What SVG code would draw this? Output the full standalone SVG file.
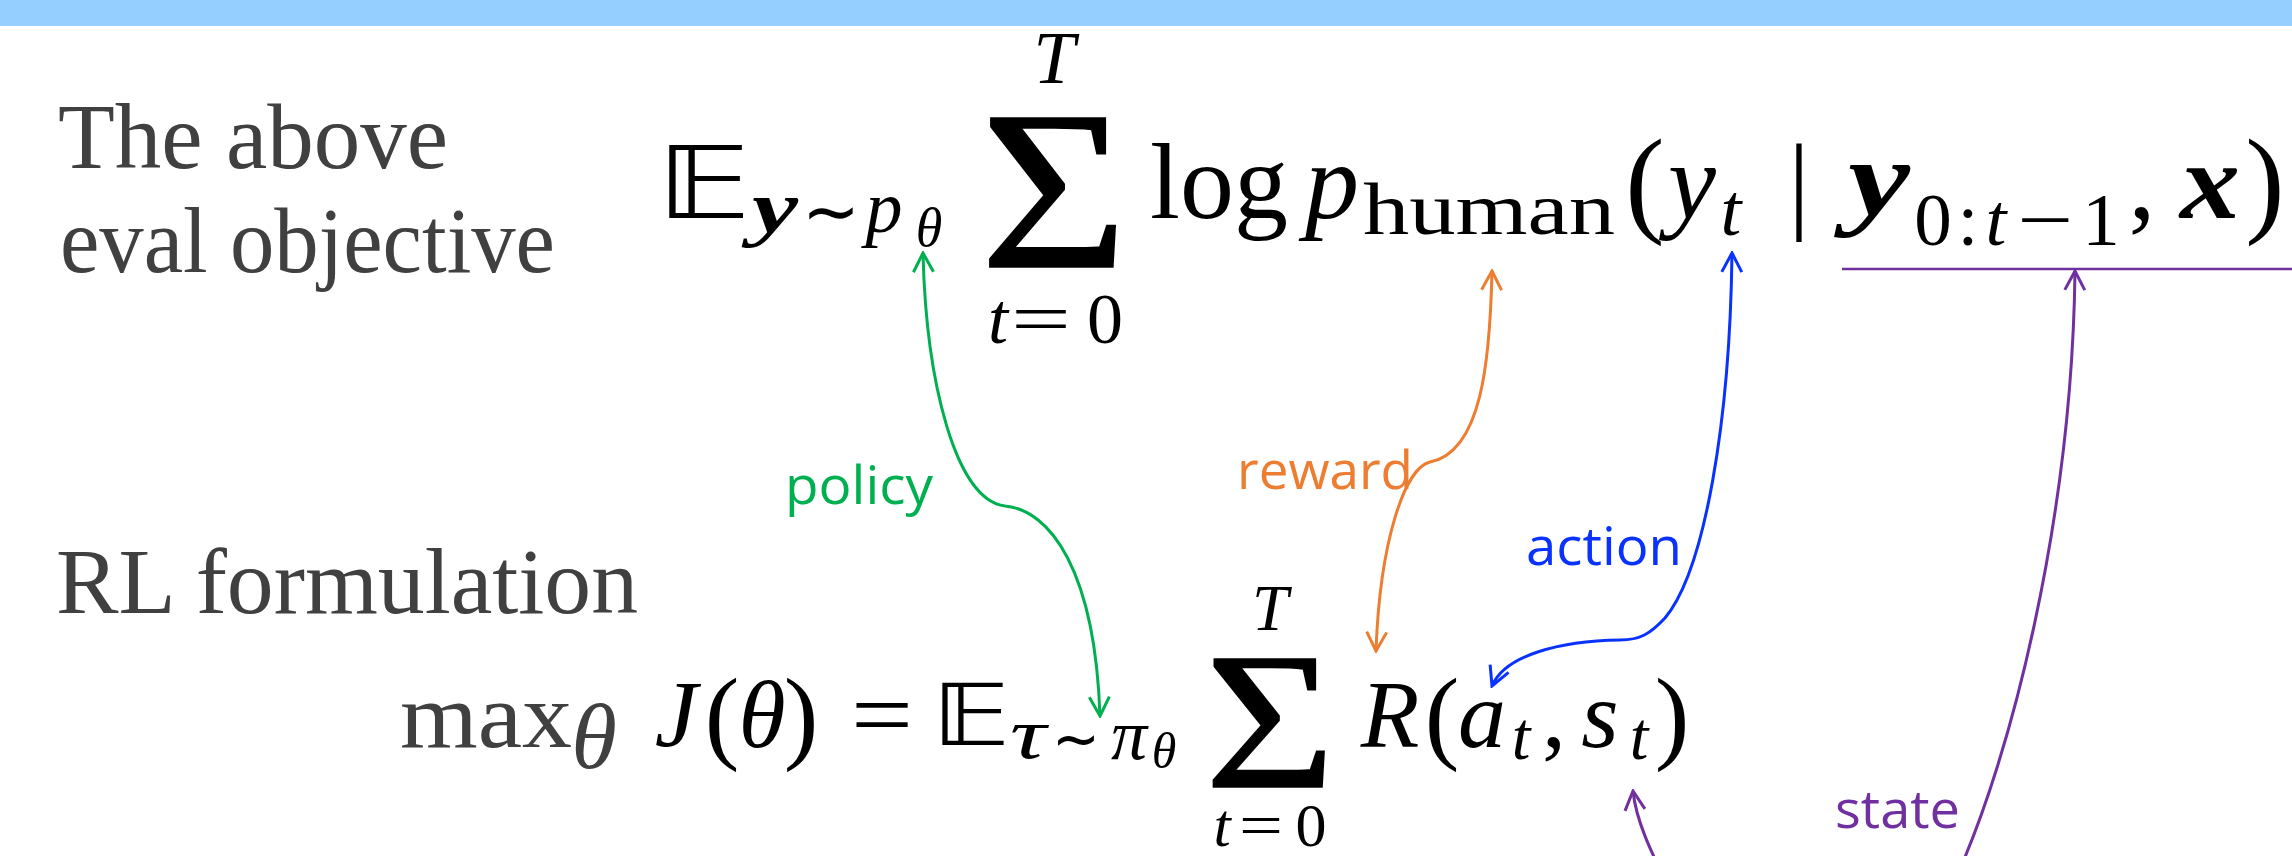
<svg xmlns="http://www.w3.org/2000/svg" width="2292" height="856" viewBox="0 0 2292 856">
<style>
.lbl{font-family:"Liberation Serif","Times New Roman",serif;fill:#404040;font-size:93px}
.m{font-family:"Liberation Serif","Times New Roman",serif;fill:#000}
.i{font-style:italic}
.b{font-weight:bold}
.bb{font-family:"DejaVu Sans","DejaVu Serif",serif;fill:#000}
.sim{font-family:"DejaVu Sans","DejaVu Serif",sans-serif;fill:#000}
.c{text-anchor:middle}
.sig{stroke:#000;stroke-width:1.5}
.tag{font-family:"Open Sans","Noto Sans",sans-serif;font-size:53px}
.con{fill:none;stroke-width:3}
</style>
<defs>
<marker id="aG" viewBox="-22 -12 24 24" refX="0" refY="0" markerWidth="24" markerHeight="24" markerUnits="userSpaceOnUse" orient="auto-start-reverse"><path d="M-19,-10 L0,0 L-19,10" fill="none" stroke="#00B050" stroke-width="3"/></marker>
<marker id="aO" viewBox="-22 -12 24 24" refX="0" refY="0" markerWidth="24" markerHeight="24" markerUnits="userSpaceOnUse" orient="auto-start-reverse"><path d="M-19,-10 L0,0 L-19,10" fill="none" stroke="#ED7D31" stroke-width="3"/></marker>
<marker id="aB" viewBox="-22 -12 24 24" refX="0" refY="0" markerWidth="24" markerHeight="24" markerUnits="userSpaceOnUse" orient="auto-start-reverse"><path d="M-19,-10 L0,0 L-19,10" fill="none" stroke="#0A32FF" stroke-width="3"/></marker>
<marker id="aP" viewBox="-22 -12 24 24" refX="0" refY="0" markerWidth="24" markerHeight="24" markerUnits="userSpaceOnUse" orient="auto-start-reverse"><path d="M-19,-10 L0,0 L-19,10" fill="none" stroke="#7030A0" stroke-width="3"/></marker>
</defs>
<rect x="0" y="0" width="2292" height="856" fill="#fff"/>
<rect id="band" x="0" y="0" width="2292" height="26" fill="#94CFFF"/>

<g id="title-eval">
<text class="lbl" x="58" y="168" textLength="390" lengthAdjust="spacingAndGlyphs">The above</text>
<text class="lbl" x="60" y="272" textLength="495" lengthAdjust="spacingAndGlyphs">eval objective</text>
</g>
<g id="title-rl">
<text class="lbl" x="56" y="613" textLength="582" lengthAdjust="spacingAndGlyphs">RL formulation</text>
</g>

<g id="eq-top">
<text class="bb c" transform="translate(704,218) scale(1.3,1)" font-size="100">𝔼</text>
<text class="m i b c" x="775" y="232" font-size="74" textLength="46" lengthAdjust="spacingAndGlyphs">y</text>
<text class="sim c" x="831" y="236" font-size="72" textLength="58" lengthAdjust="spacingAndGlyphs">∼</text>
<text class="m i c" x="884" y="232" font-size="74">p</text>
<text class="m i c" x="929" y="246" font-size="54">θ</text>
<text class="m i c" x="1054" y="83" font-size="75">T</text>
<text class="m c sig" transform="translate(1054,267) scale(1.12,1)" font-size="227">Σ</text>
<text class="m i c" x="998" y="343" font-size="72">t</text>
<text class="m c" x="1041" y="343" font-size="72" textLength="60" lengthAdjust="spacingAndGlyphs">=</text>
<text class="m c" x="1105" y="343" font-size="72">0</text>
<text class="m" x="1150" y="218" font-size="108" textLength="138" lengthAdjust="spacingAndGlyphs">log</text>
<text class="m i c" x="1332" y="218" font-size="108">p</text>
<text class="m" x="1363" y="234" font-size="75" textLength="252" lengthAdjust="spacingAndGlyphs">human</text>
<text class="m c" x="1645" y="221" font-size="118">(</text>
<text class="m i c" x="1692" y="218" font-size="108">y</text>
<text class="m i c" x="1731" y="235" font-size="75">t</text>
<text class="m c" x="1799" y="219" font-size="107">|</text>
<text class="m i b c" x="1879" y="215" font-size="108" textLength="62" lengthAdjust="spacingAndGlyphs">y</text>
<text class="m c" x="1933" y="245" font-size="75">0</text>
<text class="m c" x="1968" y="245" font-size="75">:</text>
<text class="m i c" x="1996" y="245" font-size="75">t</text>
<text class="m c" x="2045" y="245" font-size="75" textLength="56" lengthAdjust="spacingAndGlyphs">−</text>
<text class="m c" x="2101" y="245" font-size="75">1</text>
<text class="m c" x="2142" y="218" font-size="108">,</text>
<text class="m i b c" x="2210" y="218" font-size="108" textLength="60" lengthAdjust="spacingAndGlyphs">x</text>
<text class="m c" x="2265" y="221" font-size="118">)</text>
</g>

<g id="eq-bottom">
<text class="lbl" x="400" y="747" textLength="172" lengthAdjust="spacingAndGlyphs">max</text>
<text class="lbl i c" x="594" y="768" font-size="54">θ</text>
<text class="m i c" x="676" y="747" font-size="96">J</text>
<text class="m c" x="722" y="750" font-size="104">(</text>
<text class="m i c" x="762" y="747" font-size="96">θ</text>
<text class="m c" x="801" y="750" font-size="104">)</text>
<text class="m c" x="882" y="747" font-size="96" textLength="62" lengthAdjust="spacingAndGlyphs">=</text>
<text class="bb c" transform="translate(971,745) scale(1.27,1)" font-size="85">𝔼</text>
<text class="m i c" x="1028" y="758" font-size="72" textLength="36" lengthAdjust="spacingAndGlyphs">τ</text>
<text class="sim c" x="1076" y="760" font-size="62" textLength="48" lengthAdjust="spacingAndGlyphs">∼</text>
<text class="m i c" x="1129" y="759" font-size="72" textLength="36" lengthAdjust="spacingAndGlyphs">π</text>
<text class="m i c" x="1164" y="768" font-size="50">θ</text>
<text class="m i c" x="1270" y="630" font-size="65">T</text>
<text class="m c sig" transform="translate(1270,787) scale(1.15,1)" font-size="195">Σ</text>
<text class="m i c" x="1222" y="846" font-size="62">t</text>
<text class="m c" x="1261" y="846" font-size="62" textLength="44" lengthAdjust="spacingAndGlyphs">=</text>
<text class="m c" x="1311" y="846" font-size="62">0</text>
<text class="m i c" x="1390" y="747" font-size="96">R</text>
<text class="m c" x="1442" y="750" font-size="104">(</text>
<text class="m i c" x="1482" y="747" font-size="96">a</text>
<text class="m i c" x="1521" y="759" font-size="67">t</text>
<text class="m c" x="1554" y="747" font-size="96">,</text>
<text class="m i c" x="1600" y="747" font-size="96">s</text>
<text class="m i c" x="1639" y="759" font-size="67">t</text>
<text class="m c" x="1672" y="750" font-size="104">)</text>
</g>

<g id="connectors">
<line x1="1842" y1="269" x2="2292" y2="269" stroke="#7030A0" stroke-width="2.5"/>
<path class="con" stroke="#00B050" d="M923,253 C926,380 955,500 1005,506 C1050,510 1095,570 1100,716" marker-start="url(#aG)" marker-end="url(#aG)"/>
<path class="con" stroke="#ED7D31" d="M1492,271 C1490,360 1482,452 1430,462 C1405,468 1380,540 1376,651" marker-start="url(#aO)" marker-end="url(#aO)"/>
<path class="con" stroke="#0A32FF" d="M1732,253 C1730,420 1705,570 1665,618 C1650,634 1640,640 1620,640 C1560,641 1505,655 1492,686" marker-start="url(#aB)" marker-end="url(#aB)"/>
<path class="con" stroke="#7030A0" d="M2075,271 C2072,520 2010,760 1955,880 Q1810,905 1670,890 C1650,850 1636,820 1633,791" marker-start="url(#aP)" marker-end="url(#aP)"/>
</g>

<g id="label-policy"><text class="tag" x="785" y="504" fill="#00B050" textLength="148" lengthAdjust="spacingAndGlyphs">policy</text></g>
<g id="label-reward"><text class="tag" x="1237" y="489" fill="#ED7D31" textLength="176" lengthAdjust="spacingAndGlyphs">reward</text></g>
<g id="label-action"><text class="tag" x="1526" y="565" fill="#0A32FF" textLength="156" lengthAdjust="spacingAndGlyphs">action</text></g>
<g id="label-state"><text class="tag" x="1835" y="828" fill="#7030A0" textLength="125" lengthAdjust="spacingAndGlyphs">state</text></g>
</svg>
